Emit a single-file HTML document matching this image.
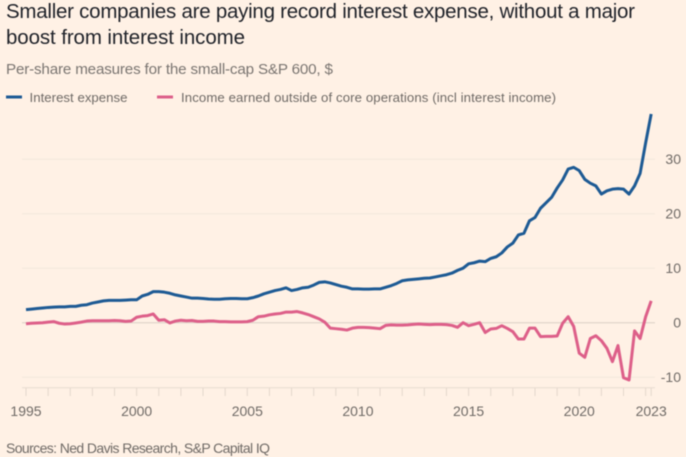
<!DOCTYPE html>
<html lang="en">
<head>
<meta charset="utf-8">
<title>Smaller companies are paying record interest expense</title>
<style>
html,body{margin:0;padding:0;background:#fff1e5;}
body{width:686px;height:457px;overflow:hidden;}
svg{display:block;filter:blur(0.45px);}
text{font-family:"Liberation Sans",sans-serif;}
</style>
</head>
<body>
<svg id="chart" xmlns="http://www.w3.org/2000/svg" width="686" height="457" viewBox="0 0 686 457">
  <rect x="0" y="0" width="686" height="457" fill="#fff1e5"/>
  <text x="6" y="18" font-size="20.5" fill="#1f2229" textLength="629">Smaller companies are paying record interest expense, without a major</text>
  <text x="6" y="44" font-size="20.5" fill="#1f2229" textLength="239">boost from interest income</text>
  <text x="6" y="74" font-size="15.2" fill="#7a7571" textLength="327">Per-share measures for the small-cap S&amp;P 600, $</text>
  <g>
    <line x1="6" x2="22" y1="97" y2="97" stroke="#1d5a94" stroke-width="3"/>
    <text x="29.5" y="102" font-size="13.2" fill="#6f6a66" textLength="98">Interest expense</text>
    <line x1="157" x2="173" y1="97" y2="97" stroke="#dd5f89" stroke-width="3"/>
    <text x="181" y="102" font-size="13.2" fill="#6f6a66" textLength="375">Income earned outside of core operations (incl interest income)</text>
  </g>
  <g id="grid"></g>
  <g id="yLabels"></g>
  <g id="xAxis"></g>
  <g id="series"></g>
  <text x="6" y="453" font-size="14" fill="#6f6a66" textLength="264">Sources: Ned Davis Research, S&amp;P Capital IQ</text>
</svg>
<script>
var quarters = [
1995,1995.25,1995.5,1995.75,1996,1996.25,1996.5,1996.75,1997,1997.25,1997.5,1997.75,
1998,1998.25,1998.5,1998.75,1999,1999.25,1999.5,1999.75,2000,2000.25,2000.5,2000.75,
2001,2001.25,2001.5,2001.75,2002,2002.25,2002.5,2002.75,2003,2003.25,2003.5,2003.75,
2004,2004.25,2004.5,2004.75,2005,2005.25,2005.5,2005.75,2006,2006.25,2006.5,2006.75,
2007,2007.25,2007.5,2007.75,2008,2008.25,2008.5,2008.75,2009,2009.25,2009.5,2009.75,
2010,2010.25,2010.5,2010.75,2011,2011.25,2011.5,2011.75,2012,2012.25,2012.5,2012.75,
2013,2013.25,2013.5,2013.75,2014,2014.25,2014.5,2014.75,2015,2015.25,2015.5,2015.75,
2016,2016.25,2016.5,2016.75,2017,2017.25,2017.5,2017.75,2018,2018.25,2018.5,2018.75,
2019,2019.25,2019.5,2019.75,2020,2020.25,2020.5,2020.75,2021,2021.25,2021.5,2021.75,
2022,2022.25,2022.5,2022.75,2023,2023.25];

var interestExpense = [
2.4,2.5,2.6,2.7,
2.8,2.85,2.9,2.9,
3.0,3.0,3.2,3.3,
3.6,3.8,4.0,4.1,
4.1,4.1,4.15,4.2,
4.2,4.9,5.2,5.7,
5.7,5.6,5.4,5.1,
4.9,4.7,4.5,4.5,
4.45,4.35,4.3,4.3,
4.4,4.45,4.45,4.4,
4.4,4.6,4.9,5.3,
5.6,5.9,6.1,6.4,
5.9,6.1,6.4,6.5,
6.9,7.4,7.5,7.3,
7.0,6.7,6.5,6.2,
6.2,6.15,6.15,6.2,
6.2,6.5,6.8,7.2,
7.7,7.85,7.95,8.05,
8.15,8.2,8.4,8.6,
8.8,9.1,9.6,10.0,
10.8,11.0,11.3,11.2,
11.8,12.1,12.8,13.9,
14.6,16.1,16.4,18.7,
19.3,21.0,22.0,23.0,
24.7,26.2,28.2,28.5,
27.9,26.3,25.6,25.1,
23.6,24.2,24.5,24.6,
24.5,23.6,25.1,27.4,
33.0,38.3];

var otherIncome = [
-0.2,-0.1,-0.05,0.0,
0.1,0.2,-0.1,-0.25,
-0.2,-0.05,0.1,0.3,
0.35,0.35,0.35,0.35,
0.4,0.35,0.25,0.3,
1.0,1.2,1.3,1.6,
0.45,0.55,-0.05,0.3,
0.45,0.35,0.4,0.25,
0.25,0.3,0.3,0.2,
0.2,0.15,0.15,0.15,
0.2,0.45,1.1,1.2,
1.45,1.6,1.7,1.95,
1.95,2.05,1.8,1.5,
1.1,0.7,0.1,-1.0,
-1.1,-1.2,-1.35,-1.0,
-0.85,-0.85,-0.9,-1.0,
-1.1,-0.5,-0.4,-0.45,
-0.45,-0.4,-0.3,-0.25,
-0.3,-0.35,-0.3,-0.3,
-0.35,-0.5,-0.85,0.0,
-0.55,-0.3,0.0,-1.8,
-1.15,-1.05,-0.55,-1.05,
-1.65,-3.0,-3.0,-1.0,
-1.0,-2.55,-2.5,-2.5,
-2.45,-0.1,1.1,-0.7,
-5.6,-6.35,-2.9,-2.4,
-3.3,-4.7,-7.15,-4.2,
-10.1,-10.5,-1.5,-2.9,
1.1,4.0];

var yTicks = [-10,0,10,20,30];
var xTickYears = [1995,1996,1997,1998,1999,2000,2001,2002,2003,2004,2005,2006,2007,2008,2009,2010,2011,2012,2013,2014,2015,2016,2017,2018,2019,2020,2021,2022,2023,2023.25];
var xLabelYears = [1995,2000,2005,2010,2015,2020,2023.25];
var xLabelTexts = ["1995","2000","2005","2010","2015","2020","2023"];

var SVGNS = "http://www.w3.org/2000/svg";
function xScale(year){ return 26 + (year - 1995) * 22.13; }
function yScale(value){ return 322.7 - value * 5.45; }
function make(tag, parent){
  var el = document.createElementNS(SVGNS, tag);
  parent.appendChild(el);
  return el;
}

var gridGroup = document.getElementById("grid");
var yLabelGroup = document.getElementById("yLabels");
yTicks.forEach(function(v){
  var line = make("line", gridGroup);
  
  
  line.setAttribute("x1", 22);
  line.setAttribute("x2", 655);
  line.setAttribute("y1", yScale(v));
  line.setAttribute("y2", yScale(v));
  line.setAttribute("stroke", v === 0 ? "#dacfc5" : "#f3e7dc");
  line.setAttribute("stroke-width", 1);
  var label = make("text", yLabelGroup);
  
  
  label.setAttribute("x", 681);
  label.setAttribute("y", yScale(v) + 5);
  label.setAttribute("text-anchor", "end");
  label.setAttribute("font-size", "14");
  label.setAttribute("fill", "#6f6a66");
  label.textContent = String(v);
});

var xGroup = document.getElementById("xAxis");
var axisLine = make("line", xGroup);


axisLine.setAttribute("x1", 22);
axisLine.setAttribute("x2", 655);
axisLine.setAttribute("y1", 387.7);
axisLine.setAttribute("y2", 387.7);
axisLine.setAttribute("stroke", "#e8dcd1");
axisLine.setAttribute("stroke-width", 1);

xTickYears.forEach(function(yr){
  var t = make("line", xGroup);
  
  
  t.setAttribute("x1", xScale(yr));
  t.setAttribute("x2", xScale(yr));
  t.setAttribute("y1", 388);
  t.setAttribute("y2", 396);
  t.setAttribute("stroke", "#e3d7cc");
  t.setAttribute("stroke-width", 1);
});

xLabelYears.forEach(function(yr, i){
  var l = make("text", xGroup);
  
  
  l.setAttribute("x", xScale(yr));
  l.setAttribute("y", 416);
  l.setAttribute("text-anchor", "middle");
  l.setAttribute("font-size", "14");
  l.setAttribute("fill", "#6f6a66");
  l.textContent = xLabelTexts[i];
});

function linePath(values){
  return values.map(function(v, i){
    return (i ? "L" : "M") + xScale(quarters[i]).toFixed(2) + " " + yScale(v).toFixed(2);
  }).join(" ");
}

var seriesGroup = document.getElementById("series");
var incomeLine = make("path", seriesGroup);


incomeLine.setAttribute("d", linePath(otherIncome));
incomeLine.setAttribute("fill", "none");
incomeLine.setAttribute("stroke", "#dd5f89");
incomeLine.setAttribute("stroke-width", 3);
incomeLine.setAttribute("stroke-linejoin", "round");

var expenseLine = make("path", seriesGroup);


expenseLine.setAttribute("d", linePath(interestExpense));
expenseLine.setAttribute("fill", "none");
expenseLine.setAttribute("stroke", "#1d5a94");
expenseLine.setAttribute("stroke-width", 3);
expenseLine.setAttribute("stroke-linejoin", "round");
</script>
</body>
</html>
